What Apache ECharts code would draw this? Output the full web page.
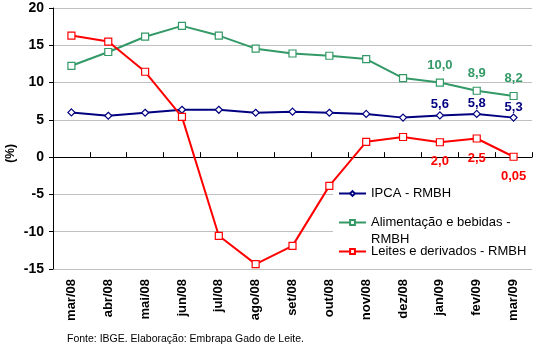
<!DOCTYPE html>
<html>
<head>
<meta charset="utf-8">
<script src="https://cdn.jsdelivr.net/npm/echarts@6/dist/echarts.min.js"></script>
<style>
html,body{margin:0;padding:0;background:#fff;}
#c{width:538px;height:348px;}
</style>
</head>
<body>
<div id="c"></div>
<script>
const categories = ['mar/08','abr/08','mai/08','jun/08','jul/08','ago/08','set/08','out/08','nov/08','dez/08','jan/09','fev/09','mar/09'];
const ipca = [6.0, 5.55, 5.95, 6.35, 6.35, 5.95, 6.1, 5.95, 5.8, 5.3, 5.6, 5.8, 5.3];
const alimentacao = [12.25, 14.1, 16.15, 17.6, 16.3, 14.55, 13.9, 13.6, 13.15, 10.6, 10.0, 8.9, 8.2];
const leites = [16.3, 15.5, 11.45, 5.4, -10.55, -14.35, -11.9, -3.85, 2.05, 2.7, 2.0, 2.5, 0.05];
const ipcaLabels = ['','','','','','','','','','','5,6','5,8','5,3'];
const alimLabels = ['','','','','','','','','','','10,0','8,9','8,2'];
const leitesLabels = ['','','','','','','','','','','2,0','2,5','0,05'];
const yTicks = {min:-15, max:20, interval:5};
const names = ['IPCA - RMBH','Alimentação e bebidas - RMBH','Leites e derivados - RMBH'];

const FONT = '"Liberation Sans", Arial, sans-serif';
const chart = echarts.init(document.getElementById('c'), null, {renderer:'canvas'});

function mk(name, vals, labels, color, symbol, size, pos, dist) {
  return {
    name: name, type:'line', xAxisIndex:0, yAxisIndex:0,
    data: vals.map((v,i)=>({value:v, label:{show: labels[i] !== '', formatter: labels[i]}})),
    symbol: symbol, symbolSize: size, showAllSymbol:true,
    lineStyle:{color:color, width:2},
    itemStyle:{color:'#ffffff', borderColor:color, borderWidth:1.2},
    label:{position:pos, distance:dist, color:color, fontFamily:FONT, fontWeight:'bold', fontSize:13},
    emphasis:{disabled:true}, animation:false
  };
}

const legendCommon = {
  orient:'vertical', itemWidth:27, itemHeight:6, itemGap:0, padding:0,
  textStyle:{fontFamily:FONT, fontSize:13, color:'#000', lineHeight:17},
  selectedMode:false
};

chart.setOption({
  animation:false,
  grid:{left:53, right:6, top:8, bottom:79, containLabel:false},
  xAxis:[{
    type:'category', data:categories, boundaryGap:true,
    axisLine:{show:false, onZero:false}, axisTick:{show:false},
    axisLabel:{rotate:90, margin:10, color:'#000', fontFamily:FONT, fontWeight:'bold', fontSize:13, interval:0}
  },{
    type:'category', data:categories, boundaryGap:true, gridIndex:0,
    axisLine:{show:true, onZero:true, lineStyle:{color:'#000', width:1}},
    axisTick:{show:true, length:5, interval:0, lineStyle:{color:'#000'}},
    axisLabel:{show:false}
  }],
  yAxis:{
    type:'value', min:yTicks.min, max:yTicks.max, interval:yTicks.interval,
    axisLine:{show:true, lineStyle:{color:'#000'}},
    axisTick:{show:true, length:4, lineStyle:{color:'#000'}},
    axisLabel:{margin:9, color:'#000', fontFamily:FONT, fontWeight:'bold', fontSize:14},
    splitLine:{show:true, lineStyle:{color:'#c0c0c0', width:1}}
  },
  legend:[
    Object.assign({}, legendCommon, {left:338, top:185, data:[{name:names[0]}]}),
    Object.assign({}, legendCommon, {left:338, top:197, data:[{name:names[1]}],
      formatter:()=>'\nAlimentação e bebidas -\nRMBH'}),
    Object.assign({}, legendCommon, {left:338, top:243, data:[{name:names[2]}]})
  ],
  graphic:[
    {type:'rect', z:1, shape:{x:333, y:182, width:199, height:80}, style:{fill:'#fff'}},
    {type:'text', left:5, top:144, rotation:Math.PI/2, style:{text:'(%)', font:'bold 12px '+FONT, fill:'#000'}},
    {type:'text', left:67, top:334, style:{text:'Fonte: IBGE. Elaboração: Embrapa Gado de Leite.', font:'10.5px '+FONT, fill:'#000'}}
  ],
  series:[
    mk(names[0], ipca, ipcaLabels, '#000080', 'diamond', 7, 'top', 0),
    mk(names[1], alimentacao, alimLabels, '#339966', 'rect', 7, 'top', 7),
    mk(names[2], leites, leitesLabels, '#ff0000', 'rect', 7, 'bottom', 9)
  ]
});
</script>
</body>
</html>
